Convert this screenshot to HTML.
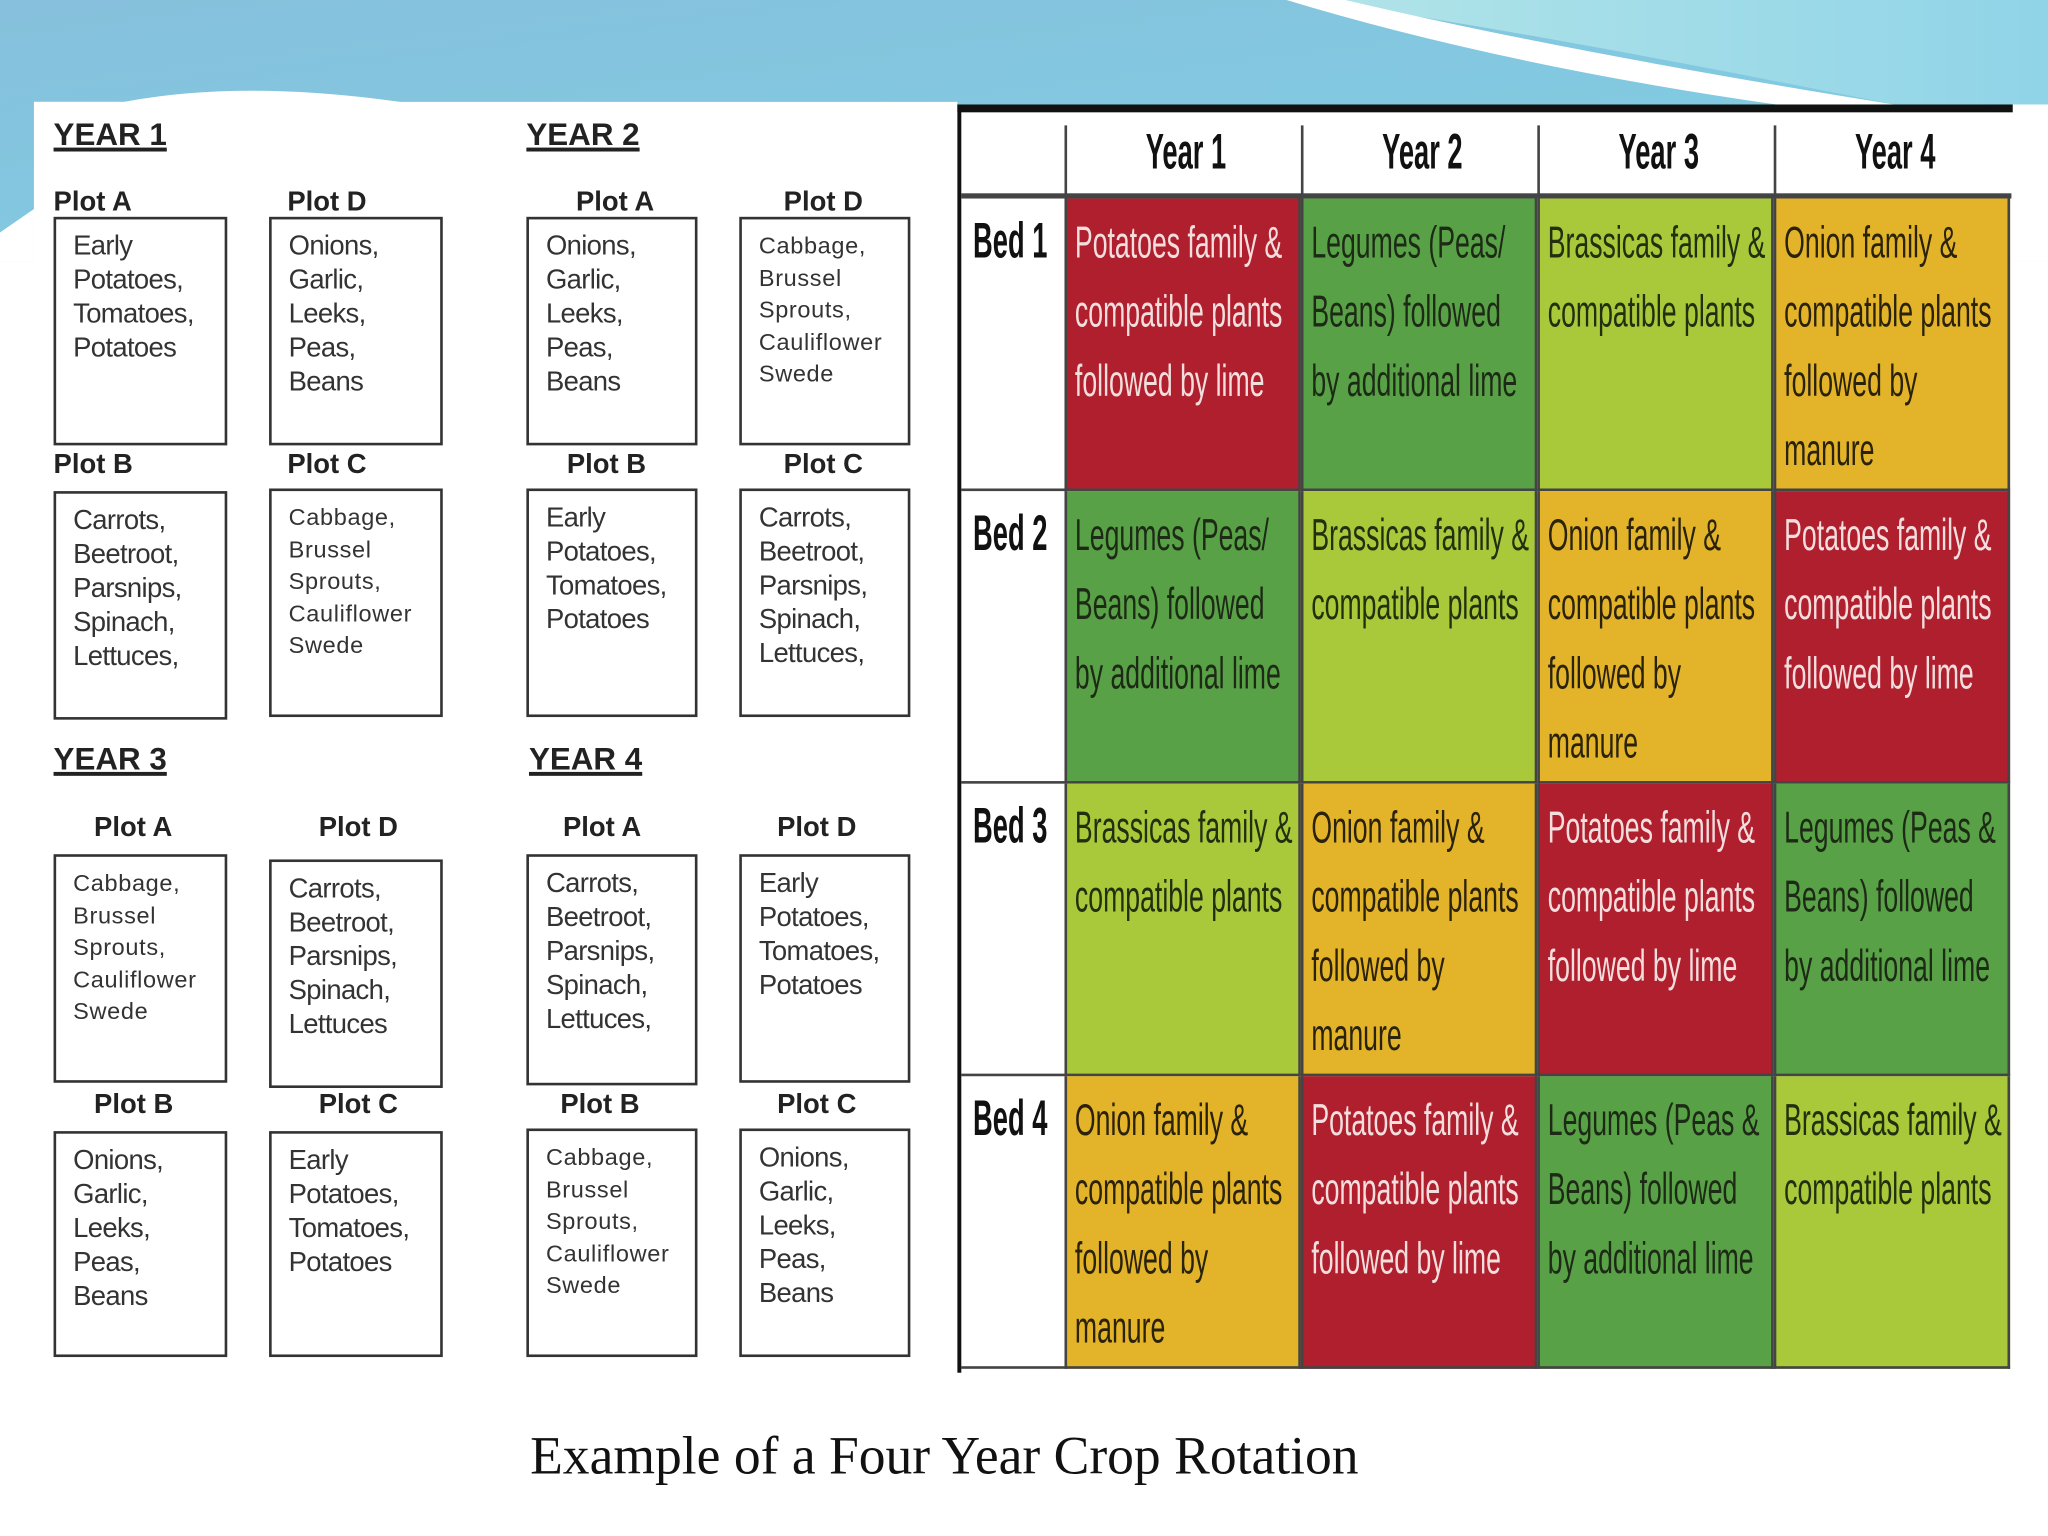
<!DOCTYPE html>
<html><head><meta charset="utf-8"><style>
html,body{margin:0;padding:0;width:2048px;height:1536px;overflow:hidden;background:#fff}
#s{position:absolute;left:0;top:0;width:1568px;height:1176px;transform:scale(1.30612);transform-origin:0 0;font-family:"Liberation Sans",sans-serif}
.abs{position:absolute}
.yh{position:absolute;font-weight:bold;font-size:24px;text-decoration:underline;text-decoration-thickness:3px;color:#222}
.pl{position:absolute;font-weight:bold;font-size:21px;color:#222}
.bx{position:absolute;border:2px solid #333;box-sizing:border-box;padding:8px 0 0 13px;font-size:21px;line-height:26px;color:#333;letter-spacing:-0.5px}
.sm{font-size:18px;line-height:24.5px;letter-spacing:0.5px}
.cell{position:absolute;box-sizing:border-box;overflow:hidden;border-right:2px solid #444;border-bottom:2px solid #444}
.cell .in{position:absolute;left:6px;top:8px;font-size:34px;line-height:53px;white-space:nowrap;transform:scaleX(0.6);transform-origin:0 0}
.hd{position:absolute;font-weight:bold;font-size:38px;color:#111;white-space:nowrap}
.hd span{display:inline-block;transform:scaleX(0.55);transform-origin:50% 0}
</style></head><body>
<div id="s">
<svg class="abs" style="left:0;top:0" width="1568" height="200">
<defs><linearGradient id="g1" x1="0" y1="0" x2="1" y2="1"><stop offset="0" stop-color="#86c0dc"/><stop offset="1" stop-color="#7fd0e4"/></linearGradient>
<linearGradient id="g2" x1="0" y1="0" x2="1" y2="0"><stop offset="0" stop-color="#b2e4e8"/><stop offset="1" stop-color="#90d4e8"/></linearGradient></defs>
<rect width="1568" height="200" fill="url(#g1)"/>
<path d="M1000 0 L1568 0 L1568 80 L1450 80 Q1150 20 1000 0Z" fill="url(#g2)"/>
<path d="M985 0 Q1150 50 1360 80 L1450 80 Q1200 40 1030 0Z" fill="#fff"/>
<path d="M26 200 L26 78 L95 78 Q190 60 320 80 L733 86 L733 200Z" fill="#fff"/>
<path d="M0 200 L0 178 L26 160 L26 200Z" fill="#fff"/>
<rect x="1540" y="80" width="28" height="120" fill="#fff"/>
</svg>
<div class="abs" style="left:26px;top:78px;width:707px;height:1000px;background:#fff"></div>
<div class="abs" style="left:0;top:200px;width:1568px;height:976px;background:#fff"></div>

<div class="yh" style="left:41px;top:90px">YEAR 1</div>
<div class="yh" style="left:403px;top:90px">YEAR 2</div>
<div class="yh" style="left:41px;top:568px">YEAR 3</div>
<div class="yh" style="left:405px;top:568px">YEAR 4</div>

<div class="pl" style="left:41px;top:143px">Plot A</div><div class="pl" style="left:220px;top:143px">Plot D</div>
<div class="pl" style="left:41px;top:344px">Plot B</div><div class="pl" style="left:220px;top:344px">Plot C</div>
<div class="pl" style="left:441px;top:143px">Plot A</div><div class="pl" style="left:600px;top:143px">Plot D</div>
<div class="pl" style="left:434px;top:344px">Plot B</div><div class="pl" style="left:600px;top:344px">Plot C</div>
<div class="pl" style="left:72px;top:622px">Plot A</div><div class="pl" style="left:244px;top:622px">Plot D</div>
<div class="pl" style="left:72px;top:834px">Plot B</div><div class="pl" style="left:244px;top:834px">Plot C</div>
<div class="pl" style="left:431px;top:622px">Plot A</div><div class="pl" style="left:595px;top:622px">Plot D</div>
<div class="pl" style="left:429px;top:834px">Plot B</div><div class="pl" style="left:595px;top:834px">Plot C</div>

<div class="bx" style="left:41px;top:166px;width:133px;height:175px">Early<br>Potatoes,<br>Tomatoes,<br>Potatoes</div>
<div class="bx" style="left:206px;top:166px;width:133px;height:175px">Onions,<br>Garlic,<br>Leeks,<br>Peas,<br>Beans</div>
<div class="bx" style="left:41px;top:376px;width:133px;height:175px">Carrots,<br>Beetroot,<br>Parsnips,<br>Spinach,<br>Lettuces,</div>
<div class="bx sm" style="left:206px;top:374px;width:133px;height:175px">Cabbage,<br>Brussel<br>Sprouts,<br>Cauliflower<br>Swede</div>

<div class="bx" style="left:403px;top:166px;width:131px;height:175px">Onions,<br>Garlic,<br>Leeks,<br>Peas,<br>Beans</div>
<div class="bx sm" style="left:566px;top:166px;width:131px;height:175px">Cabbage,<br>Brussel<br>Sprouts,<br>Cauliflower<br>Swede</div>
<div class="bx" style="left:403px;top:374px;width:131px;height:175px">Early<br>Potatoes,<br>Tomatoes,<br>Potatoes</div>
<div class="bx" style="left:566px;top:374px;width:131px;height:175px">Carrots,<br>Beetroot,<br>Parsnips,<br>Spinach,<br>Lettuces,</div>

<div class="bx sm" style="left:41px;top:654px;width:133px;height:175px">Cabbage,<br>Brussel<br>Sprouts,<br>Cauliflower<br>Swede</div>
<div class="bx" style="left:206px;top:658px;width:133px;height:175px">Carrots,<br>Beetroot,<br>Parsnips,<br>Spinach,<br>Lettuces</div>
<div class="bx" style="left:41px;top:866px;width:133px;height:173px">Onions,<br>Garlic,<br>Leeks,<br>Peas,<br>Beans</div>
<div class="bx" style="left:206px;top:866px;width:133px;height:173px">Early<br>Potatoes,<br>Tomatoes,<br>Potatoes</div>

<div class="bx" style="left:403px;top:654px;width:131px;height:177px">Carrots,<br>Beetroot,<br>Parsnips,<br>Spinach,<br>Lettuces,</div>
<div class="bx" style="left:566px;top:654px;width:131px;height:175px">Early<br>Potatoes,<br>Tomatoes,<br>Potatoes</div>
<div class="bx sm" style="left:403px;top:864px;width:131px;height:175px">Cabbage,<br>Brussel<br>Sprouts,<br>Cauliflower<br>Swede</div>
<div class="bx" style="left:566px;top:864px;width:131px;height:175px">Onions,<br>Garlic,<br>Leeks,<br>Peas,<br>Beans</div>

<div class="abs" style="left:733px;top:80px;width:808px;height:971px;background:#fff;border-top:6px solid #111;border-left:3px solid #111;box-sizing:border-box"></div>
<div id="tbl"></div>

<div class="abs" style="left:0;top:1090px;width:1446px;text-align:center;font-family:'Liberation Serif',serif;font-size:41px;color:#111">Example of a Four Year Crop Rotation</div>
</div>
<script>
const years=["Year 1","Year 2","Year 3","Year 4"];
const beds=["Bed 1","Bed 2","Bed 3","Bed 4"];
const P=["Potatoes family &","compatible plants","followed by lime"];
const L=["Legumes (Peas/","Beans) followed","by additional lime"];
const L2=["Legumes (Peas &","Beans) followed","by additional lime"];
const B=["Brassicas family &","compatible plants"];
const O=["Onion family &","compatible plants","followed by","manure"];
const grid=[[P,L,B,O],[L,B,O,P],[B,O,P,L2],[O,P,L2,B]];
const kinds=[["p","l","b","o"],["l","b","o","p"],["b","o","p","l"],["o","p","l","b"]];
const col={p:"#b01f2e",l:"#58a146",b:"#a9c93b",o:"#e3b429"};
const fg={p:"#f3dede",l:"#1d2a16",b:"#22300f",o:"#2b220a"};
const t=document.getElementById('tbl');
const x0=815,cw=181,y0=152,rh=224;
years.forEach((y,i)=>{const d=document.createElement('div');d.className='hd';


d.style.cssText=`left:${x0+i*cw}px;top:96px;width:${cw}px;height:54px;border-left:2px solid #444;text-align:center`;d.innerHTML='<span>'+y+'</span>';t.appendChild(d);});
const hl=document.createElement('div');hl.className='abs';hl.style.cssText='left:736px;top:148px;width:804px;height:4px;background:#444';t.appendChild(hl);
beds.forEach((b,r)=>{const d=document.createElement('div');d.className='hd';


d.style.cssText=`left:745px;top:${y0+r*rh+12}px`;d.innerHTML='<span style="transform-origin:0 0">'+b+'</span>';t.appendChild(d);
const ln=document.createElement('div');ln.className='abs';ln.style.cssText=`left:736px;top:${y0+(r+1)*rh-2}px;width:80px;height:2px;background:#444`;t.appendChild(ln);
grid[r].forEach((c,i)=>{const e=document.createElement('div');e.className='cell';


const k=kinds[r][i];
e.style.cssText=`left:${x0+i*cw}px;top:${y0+r*rh}px;width:${cw}px;height:${rh}px;background:${col[k]};color:${fg[k]};border-left:2px solid #444`;
e.innerHTML='<div class="in">'+c.join('<br>')+'</div>';t.appendChild(e);});});
</script>
</body></html>
